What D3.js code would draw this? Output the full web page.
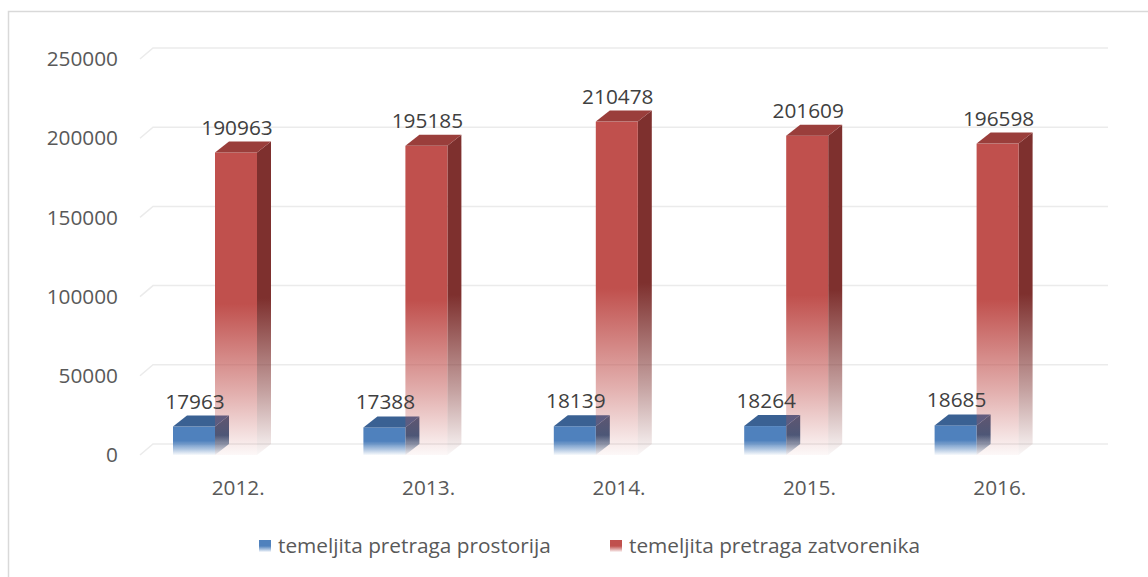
<!DOCTYPE html>
<html>
<head>
<meta charset="utf-8">
<script src="https://cdn.jsdelivr.net/npm/d3@7"></script>
<style>
  body { margin: 0; background: #fff; }
  text { font-family: "Open Sans", sans-serif; fill: #595959; }
  text.value { fill: #404040; }
</style>
</head>
<body>
<div id="chart"></div>
<script>
const years = ['2012.', '2013.', '2014.', '2015.', '2016.'];
const seriesNames = ['temeljita pretraga prostorija', 'temeljita pretraga zatvorenika'];
const prostorija = [17963, 17388, 18139, 18264, 18685];
const zatvorenika = [190963, 195185, 210478, 201609, 196598];
const yTicks = [0, 50000, 100000, 150000, 200000, 250000];

function draw(){
    //Dimensions
    let dimensions = {
        width: 1148,
        height: 577,
        floorFront: 455,
        top: 59,
        frontLeft: 140,
        frontRight: 1092,
        dx: 14,
        dy: 11
    }

    const colors = {
        blue: {front: '#4F81BD', top: '#3A6193', side: '#36587F'},
        red: {front: '#C0504D', top: '#9A3E3B', side: '#7E302E'}
    }
    const fontSize = 20.8

    const svg = d3.select('#chart')
      .append('svg')
      .attr('width', dimensions.width)
      .attr('height', dimensions.height)

    // outer border
    svg.append('rect')
        .attr('x', 8.5).attr('y', 11.5)
        .attr('width', 1160).attr('height', 600)
        .attr('fill', 'none')
        .attr('stroke', '#D9D9D9')
        .attr('stroke-width', 1.5)

    // gradients
    const defs = svg.append('defs')
    const addGrad = (id, color) => {
        const g = defs.append('linearGradient')
            .attr('id', id)
            .attr('x1', 0).attr('y1', 0).attr('x2', 0).attr('y2', 1)
        g.append('stop').attr('offset', 0).attr('stop-color', color).attr('stop-opacity', 1)
        g.append('stop').attr('offset', 0.5).attr('stop-color', color).attr('stop-opacity', 1)
        g.append('stop').attr('offset', 0.8).attr('stop-color', color).attr('stop-opacity', 0.45)
        g.append('stop').attr('offset', 1).attr('stop-color', color).attr('stop-opacity', 0.04)
    }
    addGrad('blueFront', colors.blue.front)
    addGrad('blueSide', colors.blue.side)
    addGrad('redFront', colors.red.front)
    addGrad('redSide', colors.red.side)

    // scales (front plane)
    const yScale = d3.scaleLinear()
        .domain([0, 250000])
        .range([dimensions.floorFront, dimensions.top])

    const xScale = d3.scaleBand()
        .domain(years)
        .range([dimensions.frontLeft, dimensions.frontRight])

    const xInner = d3.scaleBand()
        .domain(seriesNames)
        .range([33, 117])

    const dx = dimensions.dx, dy = dimensions.dy

    // gridlines with side wall diagonal
    const grid = svg.append('g')
    yTicks.forEach(t => {
        const yf = yScale(t)
        grid.append('path')
            .attr('d', `M${dimensions.frontLeft},${yf} L${dimensions.frontLeft + dx - 1},${yf - dy} L${dimensions.frontRight + dx + 2},${yf - dy}`)
            .attr('fill', 'none')
            .attr('stroke', '#EBEBEB')
            .attr('stroke-width', 1.5)
    })

    // y axis labels
    svg.append('g')
        .selectAll('text')
        .data(yTicks)
        .join('text')
        .attr('x', 118)
        .attr('y', d => yScale(d))
        .attr('dy', '0.35em')
        .attr('text-anchor', 'end')
        .attr('font-size', fontSize)
        .text(d => d)

    // x axis labels
    svg.append('g')
        .selectAll('text')
        .data(years)
        .join('text')
        .attr('x', d => xScale(d) + xScale.bandwidth() / 2 + 3)
        .attr('y', 495)
        .attr('text-anchor', 'middle')
        .attr('font-size', fontSize)
        .text(d => d)

    const series = [
        {name: seriesNames[0], values: prostorija, c: colors.blue, key: 'blue'},
        {name: seriesNames[1], values: zatvorenika, c: colors.red, key: 'red'}
    ]

    const bars = svg.append('g')
    const labels = svg.append('g')
    const w = xInner.bandwidth()
    years.forEach((yr, i) => {
        series.forEach(s => {
            const v = s.values[i]
            const x0 = xScale(yr) + xInner(s.name)
            const x1 = x0 + w
            const yt = yScale(v)
            const yb = yScale(0)
            const g = bars.append('g')
            // side
            g.append('path')
                .attr('d', `M${x1},${yt} L${x1 + dx},${yt - dy} L${x1 + dx},${yb - dy} L${x1},${yb} Z`)
                .attr('fill', `url(#${s.key}Side)`)
            // front
            g.append('rect')
                .attr('x', x0).attr('y', yt)
                .attr('width', w).attr('height', yb - yt)
                .attr('fill', `url(#${s.key}Front)`)
            // top
            g.append('path')
                .attr('d', `M${x0},${yt} L${x0 + dx},${yt - dy} L${x1 + dx},${yt - dy} L${x1},${yt} Z`)
                .attr('fill', s.c.top)
            // label
            labels.append('text')
                .attr('class', 'value')
                .attr('x', x0 + w / 2 + 1)
                .attr('y', yt - dy - 7)
                .attr('text-anchor', 'middle')
                .attr('font-size', fontSize)
                .text(v)
        })
    })

    // legend
    const legend = svg.append('g')
    const legendPos = [259, 610]
    series.forEach((s, i) => {
        const lg = legend.append('g').attr('transform', `translate(${legendPos[i]}, 540)`)
        lg.append('rect')
            .attr('width', 12).attr('height', 12)
            .attr('fill', `url(#${s.key}Front)`)
        lg.append('text')
            .attr('x', 19)
            .attr('y', 6)
            .attr('dy', '0.35em')
            .attr('font-size', fontSize)
            .text(s.name)
    })
}

draw();
</script>
</body>
</html>
